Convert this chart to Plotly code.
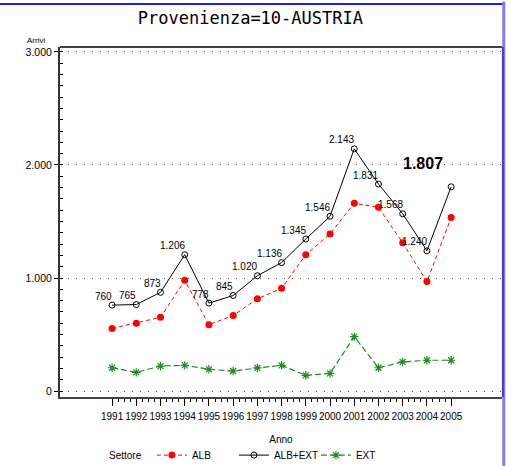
import plotly.graph_objects as go

# values
anni = [1991, 1992, 1993, 1994, 1995, 1996, 1997, 1998,
        1999, 2000, 2001, 2002, 2003, 2004, 2005]
alb_ext = [760, 765, 873, 1206, 778, 845, 1020, 1136,
           1345, 1546, 2143, 1831, 1568, 1240, 1807]
ext = [206, 165, 221, 227, 192, 177, 204, 227,
       139, 156, 481, 206, 257, 272, 272]
alb = [554, 600, 652, 979, 586, 668, 816, 909,
       1206, 1390, 1662, 1625, 1311, 968, 1535]
y_ticks = [0, 1000, 2000, 3000]

SANS = "Liberation Sans, Arial, sans-serif"
MONO = "DejaVu Sans Mono, monospace"


def fmt(v):
    return f"{v:,}".replace(",", ".")


fig = go.Figure()
fig.add_trace(go.Scatter(
    x=anni, y=alb, name="ALB", mode="lines+markers",
    line=dict(color="#ff0000", width=1, dash="4px,3px"),
    marker=dict(symbol="circle", size=7, color="#ff0000"),
))
fig.add_trace(go.Scatter(
    x=anni, y=alb_ext, name="ALB+EXT", mode="lines+markers",
    line=dict(color="black", width=1),
    marker=dict(symbol="circle-open", size=6, color="black", line=dict(width=1)),
))
fig.add_trace(go.Scatter(
    x=anni, y=ext, name="EXT", mode="lines+markers",
    line=dict(color="#1e8c1e", width=1.2, dash="6px,3px"),
    marker=dict(symbol="asterisk-open", size=7, color="#1e8c1e", line=dict(width=1.2, color="#1e8c1e")),
))

annotations = []
for i, (x, v) in enumerate(zip(anni, alb_ext)):
    if i == len(anni) - 1:
        # last value highlighted, set apart above the point
        annotations.append(dict(
            x=x, y=v, text=fmt(v), showarrow=False, xanchor="center", yanchor="middle",
            xshift=-28, yshift=23,
            font=dict(family=SANS, size=16, color="black", weight="bold"),
        ))
    else:
        annotations.append(dict(
            x=x, y=v, text=fmt(v), showarrow=False, xanchor="right", yanchor="middle",
            xshift=2, yshift=9,
            font=dict(family=SANS, size=10, color="black"),
        ))

annotations.append(dict(
    xref="paper", yref="paper", x=-0.029, y=1.019, text="Arrivi", showarrow=False,
    xanchor="right", yanchor="middle", font=dict(family=SANS, size=8, color="black"),
))
annotations.append(dict(
    xref="paper", yref="paper", x=0.106, y=-0.166, text="Settore", showarrow=False,
    xanchor="left", yanchor="middle", font=dict(family=SANS, size=10, color="black"),
))

shapes = [
    # top frame line
    dict(type="line", xref="paper", yref="paper", x0=0, x1=1, y0=1, y1=1,
         line=dict(color="black", width=1.5)),
    # window border (blue)
    dict(type="line", xref="paper", yref="paper", x0=-0.2, x1=1.002, y0=1.123, y1=1.123,
         line=dict(color="#2020e0", width=2)),
    dict(type="line", xref="paper", yref="paper", x0=1.004, x1=1.004, y0=1.13, y1=-0.2,
         line=dict(color="#7c7cff", width=3)),
    dict(type="line", xref="paper", yref="paper", x0=1.002, x1=1.002, y0=1.0, y1=0,
         line=dict(color="#3c3cc8", width=2)),
]

fig.update_layout(
    width=511, height=466,
    margin=dict(l=60, r=9, t=47, b=69, autoexpand=False),
    paper_bgcolor="white", plot_bgcolor="white",
    separators=",.",
    title=dict(text="Provenienza=10-AUSTRIA", x=0.49, xanchor="center", y=0.961, yanchor="middle",
               font=dict(family=MONO, size=17, color="black")),
    showlegend=True,
    legend=dict(orientation="h", x=0.208, y=-0.166, xanchor="left", yanchor="middle",
                font=dict(family=SANS, size=10, color="black"),
                entrywidth=37, itemwidth=30, bgcolor="rgba(0,0,0,0)"),
    annotations=annotations,
    shapes=shapes,
)

fig.update_xaxes(
    range=[1988.85, 2007.1], tickvals=anni, ticktext=[str(a) for a in anni],
    tickangle=0, automargin=False, ticklabelstandoff=2,
    showline=True, linecolor="#444", linewidth=2,
    ticks="outside", ticklen=7, tickcolor="black", tickwidth=1,
    minor=dict(tickvals=[a + q for a in anni[:-1] for q in (0.25, 0.5, 0.75)],
               ticks="outside", ticklen=3, tickcolor="black", tickwidth=1),
    showgrid=False, zeroline=False,
    tickfont=dict(family=SANS, size=10, color="black"),
    title=dict(text="Anno", standoff=15, font=dict(family=SANS, size=10, color="black")),
)
fig.update_yaxes(
    range=[-53, 3044], tickvals=y_ticks, tickformat=",d", automargin=False,
    showline=True, linecolor="#333", linewidth=2,
    ticks="outside", ticklen=4, tickcolor="black", tickwidth=1,
    minor=dict(dtick=100, tick0=0, ticks="inside", ticklen=3, tickcolor="black", tickwidth=1),
    showgrid=True, gridcolor="#555", gridwidth=1.3, griddash="1px,7px",
    zeroline=False,
    tickfont=dict(family=SANS, size=10.5, color="black"),
)

fig.write_html("out.html", config={"displayModeBar": False},
               post_script="document.body.style.margin='0';")
